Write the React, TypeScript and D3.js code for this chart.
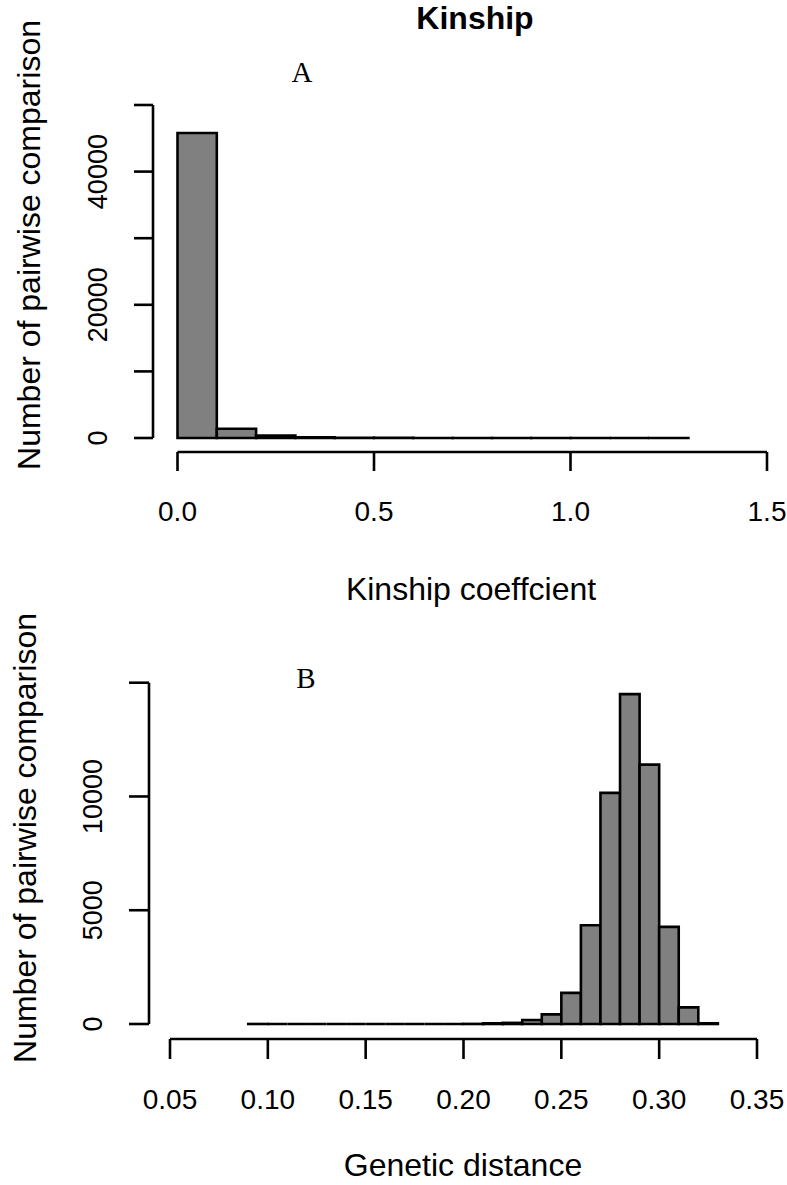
import React from "react";
import * as d3 from "d3";

// Panel A: kinship coefficient histogram (bin width 0.1, from 0 to 1.3)
const kinBinStart = 0;
const kinBinWidth = 0.1;
const kinCounts = [45800, 1400, 350, 120, 40, 15, 8, 4, 2, 1, 1, 0, 1];
const kinXTicks = [0, 0.5, 1.0, 1.5];
const kinYTicks = [0, 10000, 20000, 30000, 40000, 50000];
const kinYLabels = [0, 20000, 40000];

// Panel B: genetic distance histogram (bin width 0.01, from 0.09 to 0.33)
const genBinStart = 0.09;
const genBinWidth = 0.01;
const genCounts = [
  1, 0, 0, 0, 0, 0, 0, 0, 0, 0, 0, 5, 30, 50, 175, 425, 1370, 4340, 10160, 14500, 11400, 4270, 730, 30,
];
const genXTicks = [0.05, 0.1, 0.15, 0.2, 0.25, 0.3, 0.35];
const genYTicks = [0, 5000, 10000, 15000];
const genYLabels = [0, 5000, 10000];

const SANS = "'Liberation Sans', Arial, Helvetica, sans-serif";
const SERIF = "'Liberation Serif', 'Times New Roman', serif";
const SW = 2.6;

type PanelProps = {
  counts: number[];
  binStart: number;
  binWidth: number;
  xDomain: [number, number];
  xRange: [number, number];
  yDomain: [number, number];
  yRange: [number, number];
  xTicks: number[];
  xFmt: (v: number) => string;
  yTicks: number[];
  yLabels: number[];
  axisY: number;
  axisX: number;
  tickLen: number;
  xLabelY: number;
  yLabelX: number;
  letter: string;
  letterX: number;
  letterY: number;
  xTitle: string;
  xTitleX: number;
  xTitleY: number;
  yTitleX: number;
  yTitleY: number;
};

function Panel(p: PanelProps) {
  const x = d3.scaleLinear().domain(p.xDomain).range(p.xRange);
  const y = d3.scaleLinear().domain(p.yDomain).range(p.yRange);
  const bins = p.counts.map((c, i) => ({
    x0: p.binStart + i * p.binWidth,
    x1: p.binStart + (i + 1) * p.binWidth,
    c,
  }));
  const yTickMin = p.yTicks[0];
  const yTickMax = p.yTicks[p.yTicks.length - 1];
  const xTickMin = p.xTicks[0];
  const xTickMax = p.xTicks[p.xTicks.length - 1];
  return (
    <g>
      {bins.map((b, i) => {
        const path = d3.path();
        path.moveTo(x(b.x0), y(0));
        path.lineTo(x(b.x0), y(b.c));
        path.lineTo(x(b.x1), y(b.c));
        path.lineTo(x(b.x1), y(0));
        path.closePath();
        return (
          <path key={i} d={path.toString()} fill="#808080" stroke="#000" strokeWidth={SW} strokeLinejoin="miter" />
        );
      })}
      {/* x axis */}
      <line x1={x(xTickMin)} x2={x(xTickMax)} y1={p.axisY} y2={p.axisY} stroke="#000" strokeWidth={SW} />
      {p.xTicks.map((t) => (
        <g key={t}>
          <line x1={x(t)} x2={x(t)} y1={p.axisY} y2={p.axisY + p.tickLen} stroke="#000" strokeWidth={SW} />
          <text x={x(t)} y={p.xLabelY} textAnchor="middle" fontFamily={SANS} fontSize={28}>
            {p.xFmt(t)}
          </text>
        </g>
      ))}
      {/* y axis */}
      <line x1={p.axisX} x2={p.axisX} y1={y(yTickMin)} y2={y(yTickMax)} stroke="#000" strokeWidth={SW} />
      {p.yTicks.map((t) => (
        <line key={t} x1={p.axisX} x2={p.axisX - p.tickLen} y1={y(t)} y2={y(t)} stroke="#000" strokeWidth={SW} />
      ))}
      {p.yLabels.map((t) => (
        <text
          key={t}
          transform={`translate(${p.yLabelX},${y(t)}) rotate(-90)`}
          textAnchor="middle"
          fontFamily={SANS}
          fontSize={27}
        >
          {t}
        </text>
      ))}
      <text x={p.letterX} y={p.letterY} textAnchor="middle" fontFamily={SERIF} fontSize={29}>
        {p.letter}
      </text>
      <text x={p.xTitleX} y={p.xTitleY} textAnchor="middle" fontFamily={SANS} fontSize={32}>
        {p.xTitle}
      </text>
      <text
        transform={`translate(${p.yTitleX},${p.yTitleY}) rotate(-90)`}
        textAnchor="middle"
        fontFamily={SANS}
        fontSize={32}
      >
        Number of pairwise comparison
      </text>
    </g>
  );
}

export default function App() {
  return (
    <div style={{ position: "absolute", left: 0, top: 0 }}>
      <svg width={787} height={1185} viewBox="0 0 787 1185" style={{ display: "block", background: "#fff" }}>
        <rect width={787} height={1185} fill="#fff" />
        <text x={475} y={29} textAnchor="middle" fontFamily={SANS} fontWeight="bold" fontSize={32}>
          Kinship
        </text>
        <Panel
          counts={kinCounts}
          binStart={kinBinStart}
          binWidth={kinBinWidth}
          xDomain={[0, 1.5]}
          xRange={[177.5, 767]}
          yDomain={[0, 50000]}
          yRange={[438, 105]}
          xTicks={kinXTicks}
          xFmt={(v) => d3.format(".1f")(v)}
          yTicks={kinYTicks}
          yLabels={kinYLabels}
          axisY={452}
          axisX={153}
          tickLen={19}
          xLabelY={521}
          yLabelX={107}
          letter="A"
          letterX={302}
          letterY={82}
          xTitle="Kinship coeffcient"
          xTitleX={471}
          xTitleY={600}
          yTitleX={40}
          yTitleY={245}
        />
        <Panel
          counts={genCounts}
          binStart={genBinStart}
          binWidth={genBinWidth}
          xDomain={[0.05, 0.35]}
          xRange={[170, 757]}
          yDomain={[0, 15000]}
          yRange={[1024, 682.7]}
          xTicks={genXTicks}
          xFmt={(v) => d3.format(".2f")(v)}
          yTicks={genYTicks}
          yLabels={genYLabels}
          axisY={1039}
          axisX={149}
          tickLen={20}
          xLabelY={1109}
          yLabelX={102}
          letter="B"
          letterX={306}
          letterY={688}
          xTitle="Genetic distance"
          xTitleX={463}
          xTitleY={1176}
          yTitleX={36}
          yTitleY={838}
        />
      </svg>
    </div>
  );
}
